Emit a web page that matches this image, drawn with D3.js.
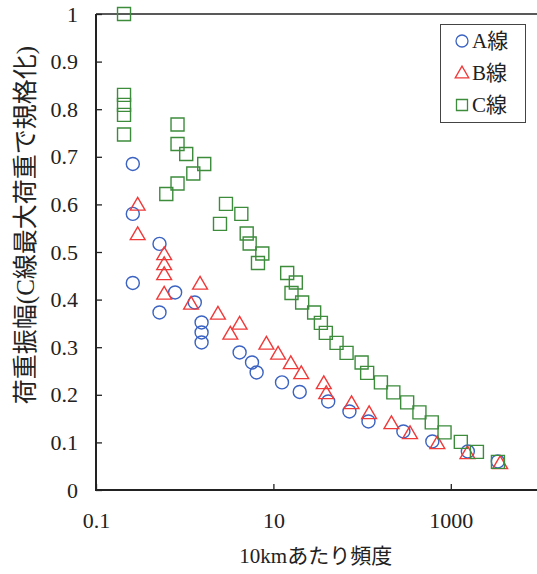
<!DOCTYPE html>
<html>
<head>
<meta charset="utf-8">
<script src="https://cdn.jsdelivr.net/npm/d3@7/dist/d3.min.js"></script>
<style>
  html, body { margin: 0; padding: 0; background: #fff; }
  svg { display: block; }
  text { font-family: "Liberation Serif", "Noto Sans CJK JP", serif; fill: #222; }
</style>
</head>
<body>
<svg id="chart" width="537" height="574"></svg>
<script>
// Frequency per 10 km (x) and normalised load amplitude (y) for each line
const lineA_freq = [0.26, 0.26, 0.52, 0.26, 0.78, 1.30, 0.52, 1.55, 1.55, 1.55, 4.16, 5.74, 6.47, 12.5, 19.8, 41.5, 72, 118, 292, 619, 1556, 3390];
const lineA_amp  = [0.685, 0.58, 0.517, 0.435, 0.415, 0.394, 0.373, 0.352, 0.331, 0.31, 0.289, 0.268, 0.247, 0.226, 0.206, 0.186, 0.165, 0.144, 0.123, 0.102, 0.081, 0.06];

const lineB_freq = [0.295, 0.295, 0.587, 0.587, 0.587, 0.587, 1.49, 1.18, 2.37, 4.16, 3.27, 8.34, 11.3, 15.7, 20.6, 37, 39.4, 76, 120, 214, 347, 706, 1541, 3600];
const lineB_amp  = [0.599, 0.537, 0.495, 0.474, 0.453, 0.412, 0.433, 0.391, 0.370, 0.349, 0.328, 0.307, 0.286, 0.266, 0.245, 0.224, 0.203, 0.182, 0.161, 0.140, 0.119, 0.098, 0.077, 0.056];

const lineC_freq = [0.207, 0.207, 0.207, 0.207, 0.207, 0.83, 0.83, 1.04, 1.66, 1.25, 0.83, 0.62, 2.92, 4.35, 2.50, 5.0, 5.4, 7.5, 6.7, 14.3, 17.9, 16.0, 21.1, 28.8, 34.3, 39, 51.5, 66.8, 98.7, 114, 163, 225, 322, 443, 610, 850, 1297, 1970, 3400];
const lineC_amp  = [1.0, 0.83, 0.809, 0.788, 0.747, 0.768, 0.727, 0.706, 0.685, 0.665, 0.644, 0.622, 0.601, 0.580, 0.559, 0.539, 0.518, 0.497, 0.477, 0.456, 0.436, 0.414, 0.394, 0.373, 0.351, 0.330, 0.309, 0.288, 0.268, 0.246, 0.226, 0.205, 0.184, 0.163, 0.142, 0.121, 0.101, 0.080, 0.059];

const xTicks = [0.1, 10, 1000];
const yTicks = [0, 0.1, 0.2, 0.3, 0.4, 0.5, 0.6, 0.7, 0.8, 0.9, 1];
const seriesNames = ["A線", "B線", "C線"];
const xTitle = "10kmあたり頻度";
const yTitle = "荷重振幅(C線最大荷重で規格化)";

const svg = d3.select("#chart");
const plot = { left: 96, right: 539.5, top: 14, bottom: 490 };

const x = d3.scaleLog().domain([0.1, 10000]).range([plot.left, plot.right]);
const y = d3.scaleLinear().domain([0, 1]).range([plot.bottom, plot.top]);

// Top border of the plot area
svg.append("line")
  .attr("x1", plot.left).attr("x2", plot.right)
  .attr("y1", plot.top).attr("y2", plot.top)
  .attr("stroke", "#222").attr("stroke-width", 1.5);

// Axes with inward ticks
const xAxis = d3.axisBottom(x).tickValues(xTicks).tickSize(-6).tickPadding(22)
  .tickFormat(d => String(d));
const yAxis = d3.axisLeft(y).tickValues(yTicks).tickSize(-6).tickPadding(18)
  .tickFormat(d => String(+d.toFixed(1)));

const gx = svg.append("g").attr("transform", `translate(0,${plot.bottom})`).call(xAxis);
const gy = svg.append("g").attr("transform", `translate(${plot.left},0)`).call(yAxis);

[gx, gy].forEach(g => {
  g.select(".domain").attr("stroke", "#222").attr("stroke-width", 2);
  g.selectAll(".tick line").attr("stroke", "#222").attr("stroke-width", 1.3);
  g.selectAll(".tick text")
    .style("font-family", '"Liberation Serif", serif')
    .style("font-size", "22px").attr("fill", "#222");
});
gx.select(".domain").attr("d", `M${plot.left},0H${plot.right}`);
gy.select(".domain").attr("d", `M0,${plot.bottom + 1}V${plot.top}`);

// Axis titles
svg.append("text")
  .attr("x", (plot.left + plot.right) / 2 - 2).attr("y", 563)
  .attr("text-anchor", "middle")
  .style("font-size", "21px")
  .text(xTitle);

svg.append("text")
  .attr("transform", "translate(34,225) rotate(-90)")
  .attr("text-anchor", "middle")
  .style("font-size", "25px")
  .text(yTitle);

// Marker shapes
const colors = ["#3b63c2", "#f03a3a", "#3c8c3c"];
const sym = [
  d3.symbol().type(d3.symbolCircle).size(Math.PI * 6.5 * 6.5),
  d3.symbol().type(d3.symbolTriangle).size(95),
  d3.symbol().type(d3.symbolSquare).size(13 * 13)
];

const series = [
  { freq: lineA_freq, amp: lineA_amp },
  { freq: lineB_freq, amp: lineB_amp },
  { freq: lineC_freq, amp: lineC_amp }
];

const marks = svg.append("g");
series.forEach((s, i) => {
  marks.append("g").selectAll("path")
    .data(s.freq.map((f, k) => [f, s.amp[k]]))
    .join("path")
    .attr("d", sym[i]())
    .attr("transform", d => `translate(${x(d[0])},${y(d[1]) + (i === 1 ? 1 : 0)})`)
    .attr("fill", "none")
    .attr("stroke", colors[i])
    .attr("stroke-width", 1.4);
});

// Legend
const lg = svg.append("g");
lg.append("rect")
  .attr("x", 440.5).attr("y", 24.5).attr("width", 85).attr("height", 98)
  .attr("fill", "#fff").attr("stroke", "#444").attr("stroke-width", 1);
seriesNames.forEach((name, i) => {
  const cy = 41 + i * 32;
  lg.append("path")
    .attr("d", d3.symbol().type([d3.symbolCircle, d3.symbolTriangle, d3.symbolSquare][i])
      .size([Math.PI * 36, 80, 121][i])())
    .attr("transform", `translate(462,${cy + (i === 1 ? 1 : 0)})`)
    .attr("fill", "none").attr("stroke", colors[i]).attr("stroke-width", 1.3);
  lg.append("text")
    .attr("x", 472).attr("y", cy).attr("dy", "0.35em")
    .style("font-size", "21px")
    .text(name);
});
</script>
</body>
</html>
